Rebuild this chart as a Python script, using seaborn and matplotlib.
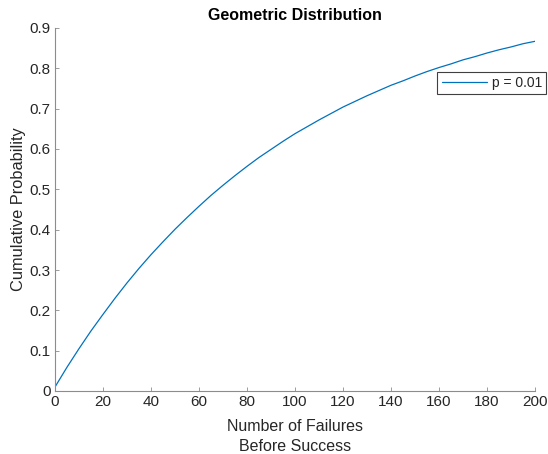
import matplotlib
matplotlib.use("Agg")
import matplotlib.pyplot as plt
import seaborn as sns
import pandas as pd

# values
failures = [0, 5, 10, 15, 20, 25, 30, 35, 40, 45, 50, 55, 60, 65, 70, 75, 80, 85, 90, 95, 100,
            105, 110, 115, 120, 125, 130, 135, 140, 145, 150, 155, 160, 165, 170, 175, 180,
            185, 190, 195, 200]
cum_prob = [0.010, 0.059, 0.105, 0.149, 0.190, 0.230, 0.268, 0.304, 0.338, 0.370, 0.401,
            0.430, 0.458, 0.485, 0.510, 0.534, 0.557, 0.579, 0.599, 0.619, 0.638,
            0.655, 0.672, 0.688, 0.704, 0.718, 0.732, 0.745, 0.758, 0.769, 0.781,
            0.792, 0.802, 0.811, 0.821, 0.829, 0.838, 0.846, 0.853, 0.861, 0.867]
series_label = "p = 0.01"
x_ticks = [0, 20, 40, 60, 80, 100, 120, 140, 160, 180, 200]
y_ticks = [0, 0.1, 0.2, 0.3, 0.4, 0.5, 0.6, 0.7, 0.8, 0.9]
y_tick_labels = ["0", "0.1", "0.2", "0.3", "0.4", "0.5", "0.6", "0.7", "0.8", "0.9"]

sns.set_style("white")
plt.rcParams["font.family"] = ["Liberation Sans", "DejaVu Sans"]

df = pd.DataFrame({"x": failures, "y": cum_prob, "s": series_label})

fig = plt.figure(figsize=(5.48, 4.54), dpi=100)
ax = fig.add_axes([55 / 548, 1 - 391 / 454, 480 / 548, 363 / 454])
sns.lineplot(data=df, x="x", y="y", hue="s", palette=["#0072BD"], linewidth=0.9, ax=ax)

ax.set_xlim(0, 200)
ax.set_ylim(0, 0.9)
ax.set_xticks(x_ticks)
ax.set_yticks(y_ticks)
ax.set_yticklabels(y_tick_labels)
for s in ["top", "right"]:
    ax.spines[s].set_visible(False)
for s in ["left", "bottom"]:
    ax.spines[s].set_color("#8c8c8c")
    ax.spines[s].set_linewidth(0.8)
ax.tick_params(direction="in", length=3, width=0.6, color="#8c8c8c",
               labelsize=11, labelcolor="#262626", pad=3, left=True, bottom=True)

ax.set_xlabel("Number of Failures\nBefore Success", fontsize=11.5, color="#262626",
              labelpad=7, linespacing=1.4)
ax.set_ylabel("Cumulative Probability", fontsize=11.8, color="#262626", labelpad=3)
ax.set_title("Geometric Distribution", fontsize=11.5, fontweight="bold", color="black", pad=6)

leg = ax.legend(loc="upper right", bbox_to_anchor=(546 / 548, 1 - 72 / 454),
                bbox_transform=fig.transFigure, frameon=True, fancybox=False,
                fontsize=10, handlelength=3.3, borderpad=0.3, handletextpad=0.3,
                borderaxespad=0)
leg.get_frame().set_edgecolor("#404040")
leg.get_frame().set_linewidth(0.8)
leg.get_frame().set_alpha(1)

fig.savefig("out.png", dpi=100)
